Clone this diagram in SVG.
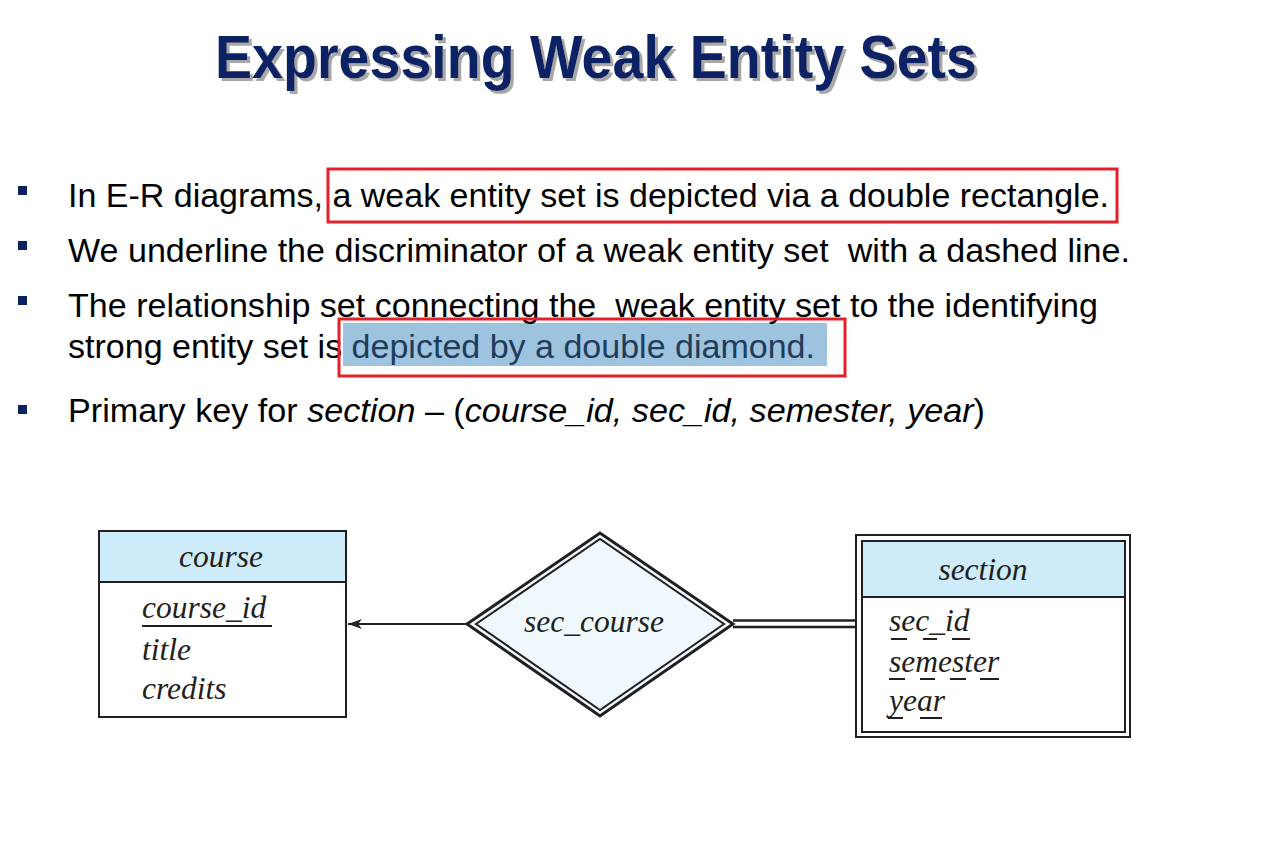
<svg xmlns="http://www.w3.org/2000/svg" width="1276" height="858" viewBox="0 0 1276 858">
<defs>
<style>
.title{font-family:"Liberation Sans",Arial,sans-serif;font-weight:bold;font-size:62px}
.body{font-family:"Liberation Sans",Arial,sans-serif;font-size:33px;fill:#000}
.bullet{fill:#0b2160}
.er{font-family:"Liberation Serif","Times New Roman",serif;font-style:italic;font-size:31.5px;fill:#231f20}
.line{stroke:#231f20;stroke-width:2;fill:none}
.hdr{fill:#cdebf8}
.redbox{fill:none;stroke:#e3202a;stroke-width:3}
.dash{stroke:#231f20;stroke-width:2}
</style>
<filter id="shadow" x="-5%" y="-20%" width="110%" height="150%">
<feDropShadow dx="3" dy="3" stdDeviation="0.6" flood-color="#a8a8a8" flood-opacity="1"/>
</filter>
<marker id="arrow" viewBox="0 0 14 10" refX="14" refY="5" markerWidth="14" markerHeight="10" markerUnits="userSpaceOnUse" orient="auto">
<path d="M14,5 L0,0 L4,5 L0,10 Z" fill="#231f20"/>
</marker>
</defs>
<rect width="1276" height="858" fill="#fff"/>

<g id="title">
<text class="title" x="215" y="78" fill="#0b2465" filter="url(#shadow)" textLength="762" lengthAdjust="spacingAndGlyphs">Expressing Weak Entity Sets</text>
</g>

<g id="bullets">
<rect class="bullet" x="18" y="186" width="9" height="9"/>
<rect class="bullet" x="18" y="241" width="9" height="9"/>
<rect class="bullet" x="18" y="296" width="9" height="9"/>
<rect class="bullet" x="18" y="405" width="9" height="9"/>
<rect x="343" y="323" width="484" height="43" fill="#9ec3df"/>
<text class="body" x="68" y="207" textLength="1041" lengthAdjust="spacingAndGlyphs">In E-R diagrams, a weak entity set is depicted via a double rectangle.</text>
<text class="body" x="68" y="262" textLength="1062" lengthAdjust="spacingAndGlyphs" xml:space="preserve">We underline the discriminator of a weak entity set  with a dashed line.</text>
<text class="body" x="68" y="317" textLength="1030" lengthAdjust="spacingAndGlyphs" xml:space="preserve">The relationship set connecting the  weak entity set to the identifying</text>
<text class="body" x="68" y="358" textLength="747" lengthAdjust="spacingAndGlyphs">strong entity set is <tspan fill="#1f3c5b">depicted by a double diamond.</tspan></text>
<text class="body" x="68" y="422" textLength="917" lengthAdjust="spacingAndGlyphs">Primary key for <tspan font-style="italic">section</tspan> – (<tspan font-style="italic">course_id, sec_id, semester, year</tspan>)</text>
<rect class="redbox" x="328" y="169" width="789" height="53"/>
<rect class="redbox" x="339" y="319" width="506" height="57"/>
</g>

<g id="course">
<rect x="99" y="531" width="247" height="186" fill="#fff"/>
<rect class="hdr" x="99" y="531" width="247" height="51"/>
<rect class="line" x="99" y="531" width="247" height="186"/>
<line class="line" x1="99" y1="582" x2="346" y2="582"/>
<text class="er" x="221" y="567" text-anchor="middle">course</text>
<text class="er" x="142" y="618">course_id</text>
<line class="dash" x1="142" y1="626" x2="272" y2="626"/>
<text class="er" x="142" y="660">title</text>
<text class="er" x="142" y="699">credits</text>
</g>

<g id="sec_course">
<polygon points="467,624 600,533 733,624 600,716" fill="#eef8fd" stroke="#231f20" stroke-width="3"/>
<polygon points="476,624 600,539 724,624 600,710" fill="none" stroke="#231f20" stroke-width="2"/>
<text class="er" x="594" y="632" text-anchor="middle">sec_course</text>
</g>

<g id="section">
<rect x="856" y="535" width="274" height="202" fill="#fff" stroke="#231f20" stroke-width="2"/>
<rect class="hdr" x="862" y="541" width="263" height="56"/>
<rect class="line" x="862" y="541" width="263" height="191"/>
<line class="line" x1="862" y1="597" x2="1125" y2="597"/>
<text class="er" x="983" y="580" text-anchor="middle">section</text>
<text class="er" x="889" y="631">sec_id</text>
<path class="dash" d="M891,639H907M923,639H937M952,639H970"/>
<text class="er" x="889" y="672">semester</text>
<path class="dash" d="M889,679H905M920,679H935M950,679H966M980,679H999"/>
<text class="er" x="889" y="711">year</text>
<path class="dash" d="M888,718H903M920,718H942"/>
</g>

<g id="connectors">
<line class="line" x1="467" y1="624" x2="348" y2="624" marker-end="url(#arrow)"/>
<line x1="733" y1="620.5" x2="856" y2="620.5" stroke="#231f20" stroke-width="2.5"/>
<line x1="733" y1="627" x2="856" y2="627" stroke="#231f20" stroke-width="2.5"/>
</g>
</svg>
